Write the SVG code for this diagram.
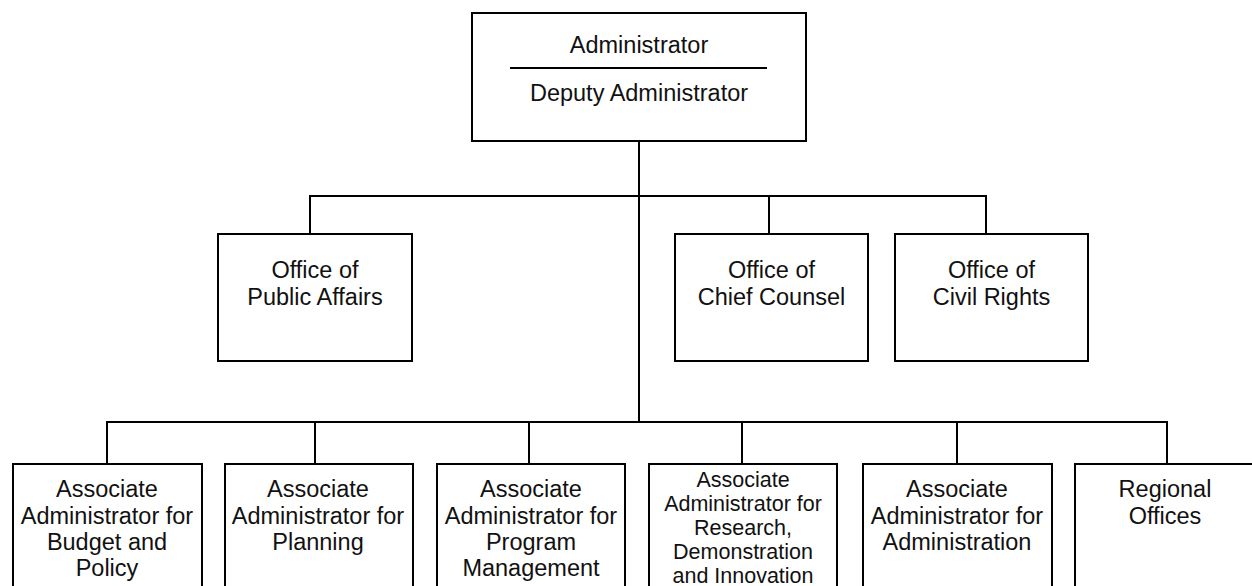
<svg xmlns="http://www.w3.org/2000/svg" width="1252" height="586" viewBox="0 0 1252 586">
<style>
.box{fill:#fff;stroke:#000;stroke-width:2}
.ln{fill:none;stroke:#000;stroke-width:2}
text{font-family:"Liberation Sans",Arial,sans-serif;font-size:23.5px;fill:#111;text-anchor:middle}
.tight{font-size:21.5px}
</style>
<rect width="1252" height="586" fill="#fff"/>
<g id="connectors">
<path class="ln" d="M639 141V422"/>
<path class="ln" d="M310 234V196H986V234"/>
<path class="ln" d="M769 196V234"/>
<path class="ln" d="M107 464V422H1167V464"/>
<path class="ln" d="M315 422V464M529 422V464M742 422V464M957 422V464"/>
</g>
<g id="administrator">
<rect class="box" x="472" y="13" width="334" height="128"/>
<text x="639" y="53">Administrator</text>
<path class="ln" d="M510 68H767"/>
<text x="639" y="101">Deputy Administrator</text>
</g>
<g id="public-affairs">
<rect class="box" x="218" y="234" width="194" height="127"/>
<text x="315" y="278">Office of</text>
<text x="315" y="305">Public Affairs</text>
</g>
<g id="chief-counsel">
<rect class="box" x="675" y="234" width="193" height="127"/>
<text x="771.5" y="278">Office of</text>
<text x="771.5" y="305">Chief Counsel</text>
</g>
<g id="civil-rights">
<rect class="box" x="895" y="234" width="193" height="127"/>
<text x="991.5" y="278">Office of</text>
<text x="991.5" y="305">Civil Rights</text>
</g>
<g id="budget-policy">
<rect class="box" x="13" y="464" width="189" height="140"/>
<text x="107" y="497">Associate</text>
<text x="107" y="523.5">Administrator for</text>
<text x="107" y="550">Budget and</text>
<text x="107" y="576">Policy</text>
</g>
<g id="planning">
<rect class="box" x="225" y="464" width="188" height="140"/>
<text x="318" y="497">Associate</text>
<text x="318" y="523.5">Administrator for</text>
<text x="318" y="550">Planning</text>
</g>
<g id="program-management">
<rect class="box" x="437" y="464" width="188" height="140"/>
<text x="531" y="497">Associate</text>
<text x="531" y="523.5">Administrator for</text>
<text x="531" y="550">Program</text>
<text x="531" y="576">Management</text>
</g>
<g id="research">
<rect class="box" x="649" y="464" width="188" height="140"/>
<text class="tight" x="743" y="487">Associate</text>
<text class="tight" x="743" y="511">Administrator for</text>
<text class="tight" x="743" y="535">Research,</text>
<text class="tight" x="743" y="559">Demonstration</text>
<text class="tight" x="743" y="583">and Innovation</text>
</g>
<g id="administration">
<rect class="box" x="863" y="464" width="189" height="140"/>
<text x="957" y="497">Associate</text>
<text x="957" y="523.5">Administrator for</text>
<text x="957" y="550">Administration</text>
</g>
<g id="regional-offices">
<rect class="box" x="1075" y="464" width="190" height="140"/>
<text x="1165" y="497">Regional</text>
<text x="1165" y="523.5">Offices</text>
</g>
</svg>
